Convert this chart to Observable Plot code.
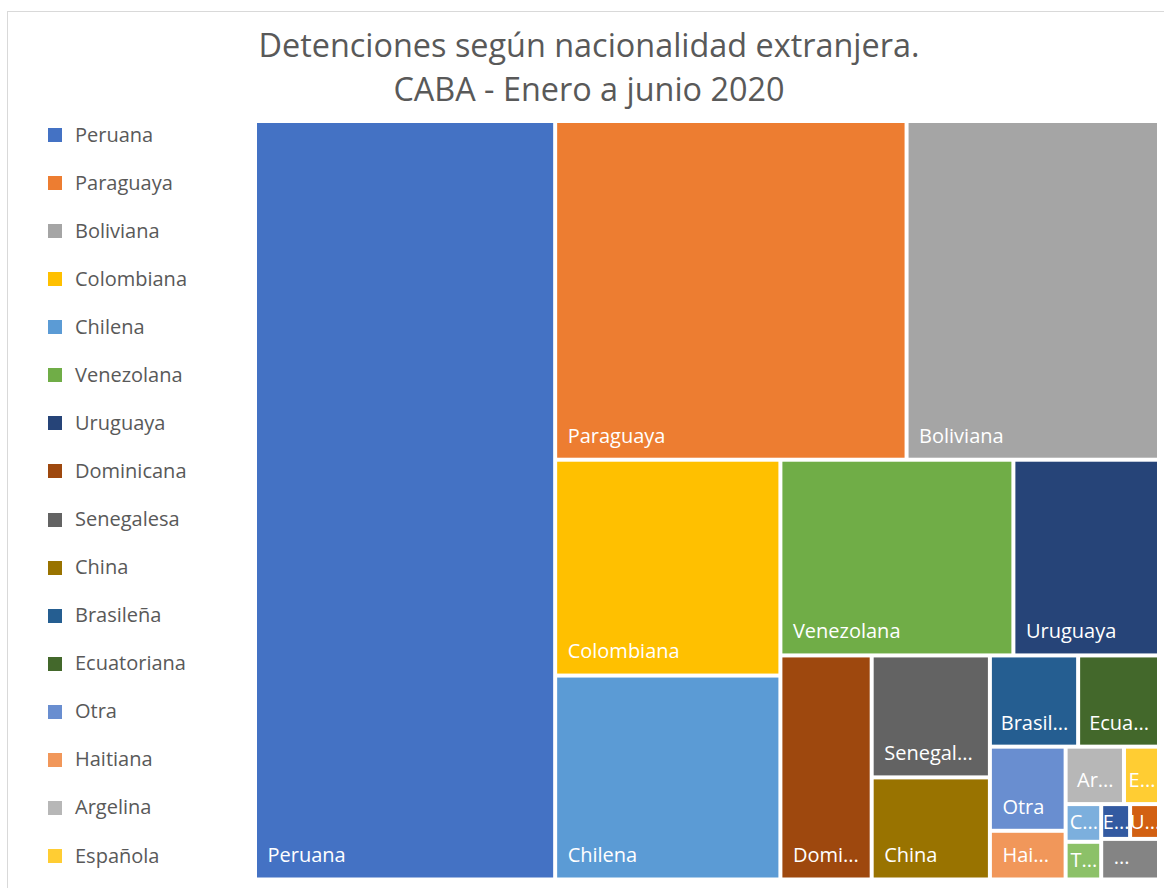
<!DOCTYPE html>
<html>
<head>
<meta charset="utf-8">
<script src="https://cdn.jsdelivr.net/npm/d3@7"></script>
<script src="https://cdn.jsdelivr.net/npm/@observablehq/plot@0.6"></script>
<style>
  html, body { margin: 0; padding: 0; background: #ffffff; }
  #wrap { position: relative; width: 1164px; height: 888px; overflow: hidden; font-family: 'Open Sans', sans-serif; }
  #frame { position: absolute; left: 7px; top: 11px; width: 1300px; height: 1000px; border: 1px solid #d9d9d9; box-sizing: border-box; }
  #chart { position: absolute; left: 0; top: 0; }
  #title { position: absolute; left: 89px; top: 22.4px; width: 1000px; text-align: center; font-size: 32.4px; line-height: 44px; color: #595959; white-space: nowrap; }
  .lg-sw { position: absolute; left: 48px; width: 14px; height: 14px; }
  .lg-tx { position: absolute; left: 75px; height: 20px; font-size: 20px; line-height: 20px; color: #595959; white-space: nowrap; }
</style>
</head>
<body>
<div id="wrap">
  <div id="frame"></div>
  <div id="chart"></div>
  <div id="title">Detenciones según nacionalidad extranjera.<br>CABA - Enero a junio 2020</div>
  <div id="legend"></div>
</div>
<script>
// ---- Data ----
const nacionalidades = [
  "Peruana", "Paraguaya", "Boliviana", "Colombiana", "Chilena", "Venezolana",
  "Uruguaya", "Dominicana", "Senegalesa", "China", "Brasileña", "Ecuatoriana",
  "Otra", "Haitiana", "Argelina", "Española",
  "Cubana", "Turca", "Estadounidense", "Ucraniana", "Sin especificar"
];
const detenciones = [
  679, 355, 255, 145, 137, 136,
  85, 61, 43, 36, 24, 22,
  19, 11, 10, 6,
  4, 4, 3, 3, 7
];
// Text shown inside each cell (as displayed, truncated by the original chart)
const etiquetas = [
  "Peruana", "Paraguaya", "Boliviana", "Colombiana", "Chilena", "Venezolana",
  "Uruguaya", "Domi...", "Senegal...", "China", "Brasil...", "Ecua...",
  "Otra", "Hai...", "Ar...", "E...",
  "C...", "T...", "E...", "U...", "..."
];
const colores = [
  "#4472C4", "#ED7D31", "#A5A5A5", "#FFC000", "#5B9BD5", "#70AD47",
  "#264478", "#9E480E", "#636363", "#997300", "#255E91", "#43682B",
  "#698ED0", "#F1975A", "#B7B7B7", "#FFCD33",
  "#7CAFDD", "#8CC168", "#335AA1", "#D26012", "#848484"
];
const legendCount = 16;

// ---- Layout ----
const W = 900, H = 754.5;
const data = nacionalidades.map((n, i) => ({nombre: n, valor: detenciones[i], etiqueta: etiquetas[i]}));

// Squarified strip tiling (d3's squarify logic, with an aspect target < 1, like Excel's treemap)
function stripSquarify(ratio) {
  return function(parent, x0, y0, x1, y1) {
    const nodes = parent.children, n = nodes.length;
    let i0 = 0, i1 = 0, value = parent.value;
    while (i0 < n) {
      const dx = x1 - x0, dy = y1 - y0;
      let sumValue;
      do sumValue = nodes[i1++].value; while (!sumValue && i1 < n);
      let minValue = sumValue, maxValue = sumValue;
      const alpha = Math.max(dy / dx, dx / dy) / (value * ratio);
      let beta = sumValue * sumValue * alpha;
      let minRatio = Math.max(maxValue / beta, beta / minValue);
      for (; i1 < n; ++i1) {
        const nodeValue = nodes[i1].value;
        sumValue += nodeValue;
        if (nodeValue < minValue) minValue = nodeValue;
        if (nodeValue > maxValue) maxValue = nodeValue;
        beta = sumValue * sumValue * alpha;
        const newRatio = Math.max(maxValue / beta, beta / minValue);
        if (newRatio > minRatio) { sumValue -= nodeValue; break; }
        minRatio = newRatio;
      }
      const row = {value: sumValue, children: nodes.slice(i0, i1)};
      if (dx < dy) d3.treemapDice(row, x0, y0, x1, dy ? (y0 += dy * sumValue / value) : y1);
      else d3.treemapSlice(row, x0, y0, dx ? (x0 += dx * sumValue / value) : x1, y1);
      value -= sumValue;
      i0 = i1;
    }
  };
}

const root = d3.treemap()
  .size([W, H])
  .paddingInner(4)
  .round(false)
  .tile(stripSquarify(0.81))(d3.hierarchy({children: data}).sum(d => d.valor || 0));

const ctx = document.createElement("canvas").getContext("2d");
ctx.font = "20px 'Open Sans'";

const cells = root.leaves().map(l => {
  const w = l.x1 - l.x0;
  const tw = ctx.measureText(l.data.etiqueta).width;
  const lx = (tw + 20 <= w) ? l.x0 + 10 : l.x0 + (w - tw) / 2;
  const ly = Math.max(l.y0 + 16, l.y1 - 22);
  return {...l.data, x0: l.x0, x1: l.x1, y0: l.y0, y1: l.y1, lx, ly};
});

const chart = Plot.plot({
  width: 1164,
  height: 888,
  marginLeft: 257,
  marginRight: 7,
  marginTop: 123,
  marginBottom: 10.5,
  x: {domain: [0, W], axis: null},
  y: {domain: [0, H], reverse: true, axis: null},
  color: {type: "ordinal", domain: nacionalidades, range: colores},
  style: {background: "transparent", fontFamily: "'Open Sans', sans-serif"},
  marks: [
    Plot.rect(cells, {x1: "x0", x2: "x1", y1: "y0", y2: "y1", fill: "nombre"}),
    Plot.text(cells, {
      x: "lx", y: "ly", text: "etiqueta", fill: "white",
      fontSize: 20, textAnchor: "start", fontFamily: "'Open Sans', sans-serif"
    })
  ]
});
document.getElementById("chart").appendChild(chart);

// ---- Legend (vertical list at left) ----
const legend = document.getElementById("legend");
const legendTop = 135, legendStep = 48.07;
for (let i = 0; i < legendCount; i++) {
  const cy = legendTop + i * legendStep;
  const sw = document.createElement("div");
  sw.className = "lg-sw";
  sw.style.top = (cy - 7) + "px";
  sw.style.background = colores[i];
  const tx = document.createElement("div");
  tx.className = "lg-tx";
  tx.style.top = (cy - 10.5) + "px";
  tx.textContent = nacionalidades[i];
  legend.appendChild(sw);
  legend.appendChild(tx);
}
</script>
</body>
</html>
